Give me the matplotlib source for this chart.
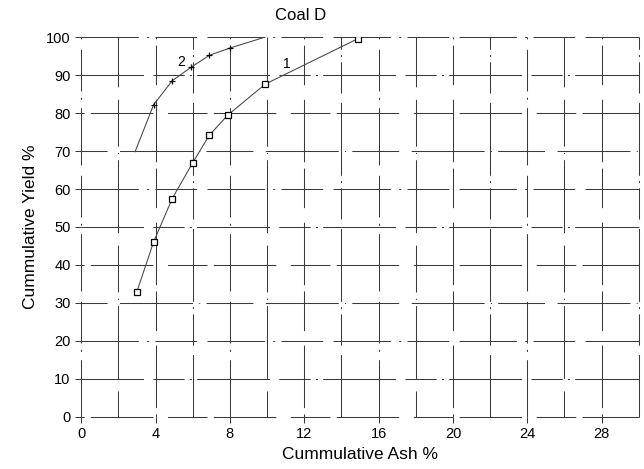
import matplotlib
matplotlib.use("Agg")
import matplotlib.pyplot as plt

plt.rcParams['font.family'] = ['Liberation Sans', 'DejaVu Sans']

# Data
ash1 = [3.0, 3.9, 4.9, 6.0, 6.9, 7.9, 9.9, 14.9]
yield1 = [33.0, 46.1, 57.5, 66.9, 74.2, 79.5, 87.6, 99.6]
ash2 = [2.9, 3.9, 4.9, 5.9, 6.9, 8.0, 9.9]
yield2 = [69.8, 82.2, 88.5, 92.0, 95.2, 97.1, 100.0]
xticks = [0, 4, 8, 12, 16, 20, 24, 28]
yticks = [0, 10, 20, 30, 40, 50, 60, 70, 80, 90, 100]
xgrid = list(range(0, 31, 2))
ygrid = list(range(0, 101, 10))

fig = plt.figure(figsize=(6.44, 4.69), dpi=100)
ax = fig.add_axes([0.126, 0.111, 0.866, 0.810])
ax.set_xlim(0, 30)
ax.set_ylim(0, 100)

for s in ax.spines.values():
    s.set_visible(False)

patterns = [(0, (55, 8, 2, 6, 40, 10)), (20, (45, 12, 70, 6, 1, 6)),
            (35, (38, 6, 60, 14)), (10, (70, 9, 30, 5, 2, 5))]
for i, xv in enumerate(xgrid):
    ax.plot([xv, xv], [0, 100], color='#3a3a3a', lw=0.75,
            linestyle=patterns[i % 4], zorder=1, clip_on=False)
for i, yv in enumerate(ygrid):
    ax.plot([0, 30], [yv, yv], color='#3a3a3a', lw=0.75,
            linestyle=patterns[(i + 2) % 4], zorder=1, clip_on=False)

ax.plot(ash1, yield1, color='#444444', lw=0.75, marker='s', ms=5,
        mfc='white', mec='black', mew=0.9, zorder=3)
ax.plot(ash2, yield2, color='#444444', lw=0.75, marker='+', ms=5,
        mec='black', mew=0.9, markevery=[1, 2, 3, 4, 5], zorder=3)

ax.text(11.06, 93.0, '1', fontsize=10, ha='center', va='center', zorder=4)
ax.text(5.4, 93.5, '2', fontsize=10, ha='center', va='center', zorder=4)

ax.set_xticks(xticks)
ax.set_yticks(yticks)
ax.tick_params(axis='both', labelsize=10.5, length=4, width=0.75, color='#3a3a3a')
ax.set_xlabel('Cummulative Ash %', fontsize=12.5, labelpad=4)
ax.set_ylabel('Cummulative Yield %', fontsize=12.5, labelpad=6)
fig.text(0.467, 0.966, 'Coal D', fontsize=12, ha='center', va='center')

fig.savefig('out.png', dpi=100)
